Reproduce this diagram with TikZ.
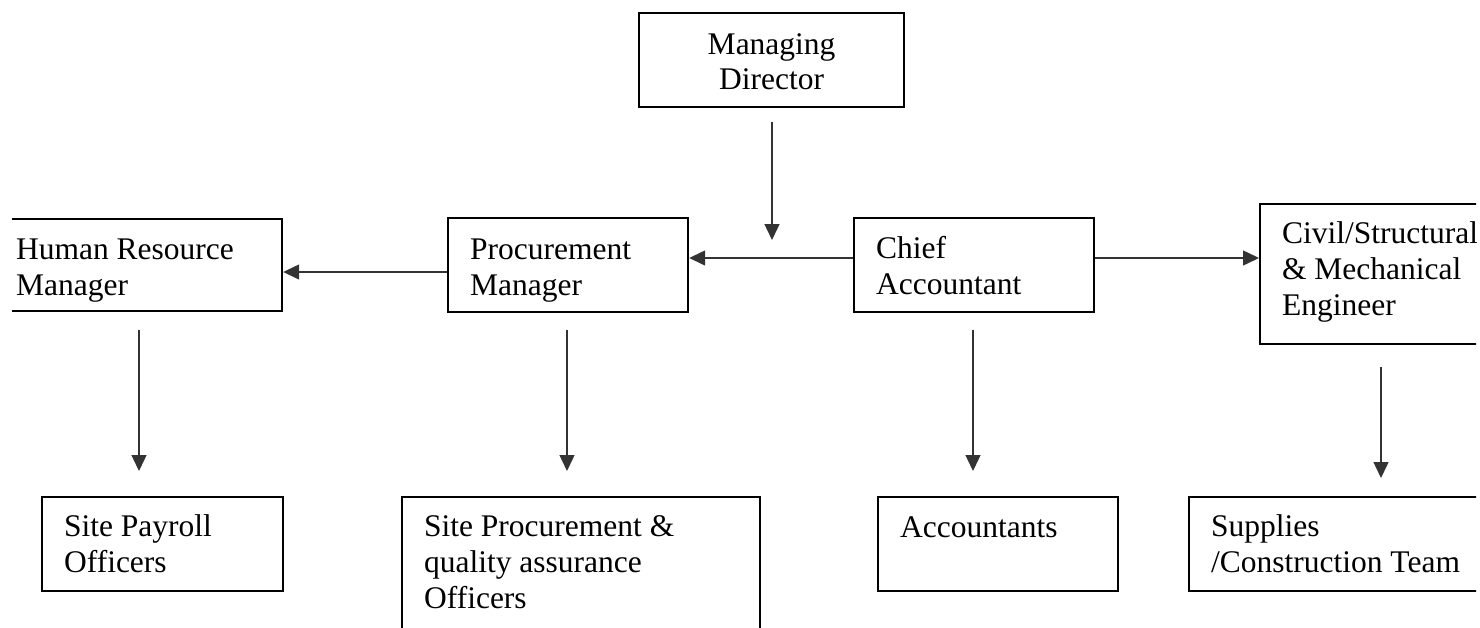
\documentclass[tikz,border=0pt]{standalone}
\usepackage{fontspec}
\setmainfont{Liberation Serif}
\usetikzlibrary{arrows.meta}
\newcommand{\boxtxt}[4]{\parbox[c][#2][t]{#1}{\fontsize{31.5pt}{36pt}\selectfont\raggedright\leftskip=22pt\rule{0pt}{#3}#4}}
\newcommand{\boxctr}[4]{\parbox[c][#2][t]{#1}{\fontsize{31.5pt}{35pt}\selectfont\centering\rule{0pt}{#3}#4}}
\tikzset{
  orgbox/.style={draw=black, line width=2.2pt, inner sep=0pt, anchor=north west, fill=none},
  arr/.style={draw=black!80, line width=1.4pt, -{Triangle[length=16pt,width=15pt]}}
}
\begin{document}
\begin{tikzpicture}[x=1pt, y=-1pt]
\useasboundingbox (0,0) rectangle (1480,627);
\clip (12,0) rectangle (1476,627);
% top
\node[orgbox] (md) at (638,12) {\boxctr{265pt}{94pt}{41pt}{Managing\\Director}};
% middle row
\node[orgbox] (hr) at (-7,218) {\boxtxt{288pt}{92pt}{40pt}{Human Resource\\Manager}};
\node[orgbox] (proc) at (447,217) {\boxtxt{240pt}{94pt}{41pt}{Procurement\\Manager}};
\node[orgbox] (chief) at (853,217) {\boxtxt{240pt}{94pt}{40pt}{Chief\\Accountant}};
\node[orgbox] (civil) at (1259,203) {\boxtxt{262pt}{140pt}{39pt}{Civil/Structural\\\& Mechanical\\Engineer}};
% bottom row
\node[orgbox] (pay) at (41,496) {\boxtxt{241pt}{94pt}{39pt}{Site Payroll\\Officers}};
\node[orgbox] (spq) at (401,496) {\boxtxt{358pt}{150pt}{39pt}{Site Procurement \&\\quality assurance\\Officers}};
\node[orgbox] (acc) at (877,496) {\boxtxt{240pt}{94pt}{40pt}{Accountants}};
\node[orgbox] (sup) at (1188,496) {\boxtxt{330pt}{94pt}{39pt}{Supplies\\/Construction Team}};
% free arrow ends
\coordinate (mdA) at (772,122);
\coordinate (mdB) at (772,240);
\coordinate (hrA) at (139,330);
\coordinate (hrB) at (139,471);
\coordinate (prA) at (567,330);
\coordinate (prB) at (567,471);
\coordinate (chA) at (973,330);
\coordinate (chB) at (973,471);
\coordinate (ciA) at (1381,367);
\coordinate (ciB) at (1381,478);
% connectors
\draw[arr] (mdA) -- (mdB);
\draw[arr] (proc.west |- 0,272) -- (hr.east |- 0,272);
\draw[arr] (chief.west |- 0,258) -- (proc.east |- 0,258);
\draw[arr] (chief.east |- 0,258) -- (civil.west |- 0,258);
\draw[arr] (hrA) -- (hrB);
\draw[arr] (prA) -- (prB);
\draw[arr] (chA) -- (chB);
\draw[arr] (ciA) -- (ciB);
\end{tikzpicture}
\end{document}
